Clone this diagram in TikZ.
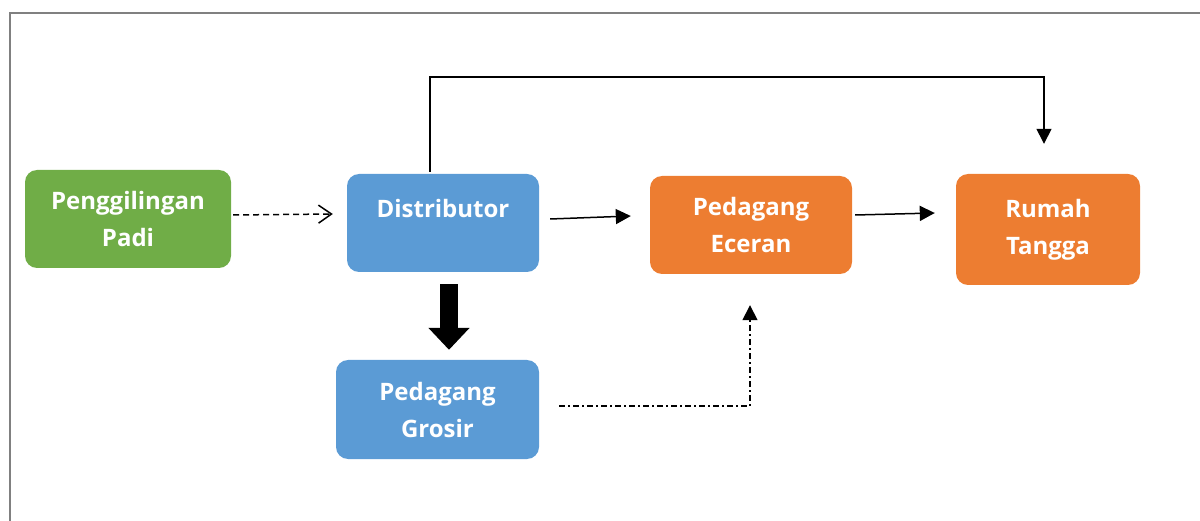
\documentclass[tikz,border=0pt]{standalone}
\usepackage{fontspec}
\setmainfont{Open Sans}
\usetikzlibrary{arrows.meta,calc}
\definecolor{cgreen}{HTML}{70AD47}
\definecolor{cblue}{HTML}{5B9BD5}
\definecolor{corange}{HTML}{ED7D31}
\definecolor{cframe}{HTML}{808080}
\begin{document}
\begin{tikzpicture}[x=1pt,y=-1pt,
  box/.style={rounded corners=12pt, inner sep=0pt, align=center, text=white,
    font=\fontsize{24}{37}\selectfont\bfseries},
  conn/.style={line width=1.5pt, black},
  tri/.style={-{Triangle[length=15pt,width=15pt]}}
]
\useasboundingbox (0,0) rectangle (1200,521);
\draw[cframe, line width=2pt] (9.5,521) -- (9.5,13.5) -- (1200,13.5);

\node[box, fill=cgreen, minimum width=206pt, minimum height=98pt] (peng) at (128,219) {Penggilingan\\Padi};
\node[box, fill=cblue, minimum width=192pt, minimum height=98pt] (dist) at (443,223) {Distributor\\[-8pt]\mbox{}};
\node[box, fill=corange, minimum width=202pt, minimum height=98pt] (ece) at (751,225) {Pedagang\\Eceran};
\node[box, fill=corange, minimum width=184pt, minimum height=111pt] (rum) at (1048,229.5) {Rumah\\Tangga};
\node[box, fill=cblue, minimum width=203pt, minimum height=99pt] (gro) at (437.5,409.5) {Pedagang\\Grosir};

\coordinate (topright) at (1044,77);

\draw[conn, dash pattern=on 6pt off 4pt, -{Straight Barb[length=13pt,width=18pt]}]
  ([shift={(2,-4)}]peng.east) -- ([shift={(-14,-9)}]dist.west);
\draw[conn, tri] ([shift={(11,-4)}]dist.east) -- ([shift={(-19,-9)}]ece.west);
\draw[conn, tri] ([shift={(3,-10)}]ece.east) -- ([shift={(-21,-16.5)}]rum.west);
\draw[conn, tri] ([shift={(-13,-2)}]dist.north) |- (topright) -- ([shift={(-4,-30)}]rum.north);
\draw[line width=18pt, -{Triangle[length=22pt,width=40pt]}]
  ([shift={(6,12)}]dist.south) -- ([shift={(11.5,-10)}]gro.north);
\draw[conn, dash pattern=on 6pt off 3pt on 2pt off 3pt, tri]
  ([shift={(20,-3.5)}]gro.east) -| ([shift={(-1,31)}]ece.south);
\end{tikzpicture}
\end{document}
